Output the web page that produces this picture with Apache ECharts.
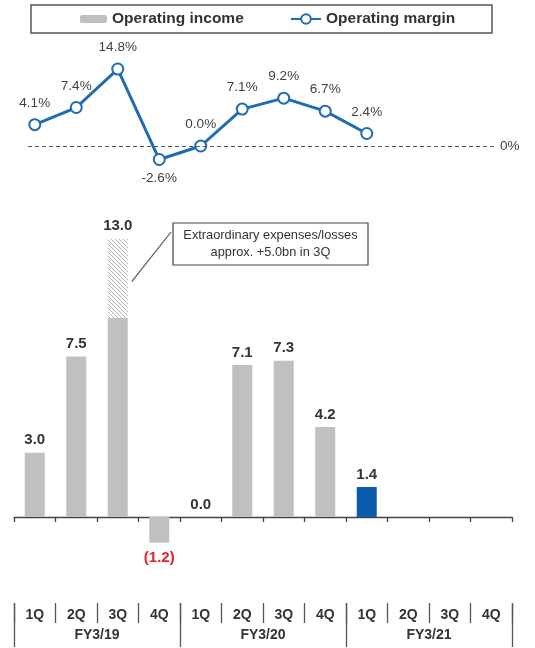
<!DOCTYPE html>
<html>
<head>
<meta charset="utf-8">
<script src="https://cdn.jsdelivr.net/npm/echarts@6/dist/echarts.min.js"></script>
<style>
  html, body { margin: 0; padding: 0; background: #fff; }
  #chart { width: 535px; height: 648px; }
</style>
</head>
<body>
<div id="chart"></div>
<script>
// Quarterly operating income (bn) and operating margin (%)
const quarterLabels = ['1Q', '2Q', '3Q', '4Q', '1Q', '2Q', '3Q', '4Q', '1Q', '2Q', '3Q', '4Q'];
const fiscalYears = ['FY3/19', 'FY3/20', 'FY3/21'];
const operatingIncome = [3.0, 7.5, 13.0, -1.2, 0.0, 7.1, 7.3, 4.2, 1.4, null, null, null];
// Part of the 3Q FY3/19 figure shown hatched (extraordinary items)
const extraordinaryPortion = [null, null, 3.7, null, null, null, null, null, null, null, null, null];
const operatingMargin = [4.1, 7.4, 14.8, -2.6, 0.0, 7.1, 9.2, 6.7, 2.4, null, null, null];
const latestQuarter = 8;

const FONT = 'Arial, "Liberation Sans", sans-serif';
const GREY = '#c0c0c0';
const BLUE = '#1f6cb0';
const BLUE_BAR = '#0b5cad';
const RED = '#e8202a';

function hatchPattern() {
  const c = document.createElement('canvas');
  c.width = 4; c.height = 4;
  const g = c.getContext('2d');
  g.fillStyle = '#ffffff';
  g.fillRect(0, 0, 4, 4);
  g.strokeStyle = '#b4b4b4';
  g.lineWidth = 1;
  g.beginPath();
  g.moveTo(-1, -1); g.lineTo(5, 5);
  g.moveTo(-1, 3); g.lineTo(1, 5);
  g.moveTo(3, -1); g.lineTo(5, 1);
  g.stroke();
  return c;
}

function fmtIncome(v) {
  return v < 0 ? '(' + Math.abs(v).toFixed(1) + ')' : v.toFixed(1);
}

// Solid part of each bar; the hatched part is stacked on top of it
const baseData = operatingIncome.map((v, i) => {
  if (v == null) return null;
  const extra = extraordinaryPortion[i] || 0;
  const item = { value: +(v - extra).toFixed(2) };
  if (i === latestQuarter) item.itemStyle = { color: BLUE_BAR };
  if (extra) item.label = { show: false };
  if (v < 0) item.label = { position: 'bottom', distance: 8, color: RED };
  return item;
});

const hatchData = extraordinaryPortion.map((v, i) => v == null ? null : {
  value: v,
  label: { show: true, formatter: () => fmtIncome(operatingIncome[i]) }
});

const marginData = operatingMargin.map(v => {
  if (v == null) return null;
  return v < 0 ? { value: v, label: { position: 'bottom', distance: 5 } } : v;
});

const chart = echarts.init(document.getElementById('chart'), null, { renderer: 'canvas' });

const option = {
  animation: false,
  backgroundColor: '#fff',
  textStyle: { fontFamily: FONT },
  legend: [
    {
      data: ['Operating income'],
      left: 80, top: 10, padding: 0,
      itemWidth: 27, itemHeight: 8, itemGap: 5,
      textStyle: { fontFamily: FONT, fontSize: 15.5, fontWeight: 'bold', color: '#333', lineHeight: 18 }
    },
    {
      data: ['Operating margin'],
      left: 290, top: 10, padding: 0,
      itemWidth: 30, itemHeight: 12, itemGap: 5,
      textStyle: { fontFamily: FONT, fontSize: 15.5, fontWeight: 'bold', color: '#333', lineHeight: 18 }
    }
  ],
  grid: [
    { left: 14, right: 23, top: 42, height: 130 },
    { left: 14, right: 23, top: 217.4, height: 342.4 }
  ],
  xAxis: [
    { gridIndex: 0, type: 'category', data: quarterLabels, show: false },
    {
      gridIndex: 1, type: 'category', data: quarterLabels,
      axisLine: { show: true, onZero: true, lineStyle: { color: '#444', width: 1.3 } },
      axisTick: { show: true, length: 5, lineStyle: { color: '#444', width: 1.3 } },
      axisLabel: { show: false }
    },
    {
      gridIndex: 1, type: 'category', data: quarterLabels, position: 'bottom', offset: 43.2,
      axisLine: { show: false, onZero: false },
      axisTick: { show: true, length: 20, interval: 0, lineStyle: { color: '#555', width: 1.3 } },
      axisLabel: { show: true, interval: 0, margin: 5, fontFamily: FONT, fontSize: 14, fontWeight: 'bold', color: '#333' }
    },
    {
      gridIndex: 1, type: 'category', data: fiscalYears, position: 'bottom', offset: 43.2,
      axisLine: { show: false, onZero: false },
      axisTick: { show: true, length: 44, interval: 0, lineStyle: { color: '#555', width: 1.3 } },
      axisLabel: { show: true, interval: 0, margin: 25, fontFamily: FONT, fontSize: 14, fontWeight: 'bold', color: '#333' }
    }
  ],
  yAxis: [
    { gridIndex: 0, type: 'value', min: -5, max: 20, show: false, splitLine: { show: false } },
    { gridIndex: 1, type: 'value', min: -2, max: 14, show: false, splitLine: { show: false } }
  ],
  series: [
    {
      name: 'Operating margin',
      type: 'line',
      xAxisIndex: 0, yAxisIndex: 0,
      data: marginData,
      symbol: 'emptyCircle',
      symbolSize: 11,
      lineStyle: { color: BLUE, width: 3 },
      itemStyle: { color: BLUE, borderWidth: 2.5 },
      label: {
        show: true, position: 'top', distance: 8,
        fontFamily: FONT, fontSize: 13.5, color: '#404040',
        formatter: p => p.value.toFixed(1) + '%'
      },
      markLine: {
        silent: true,
        symbol: 'none',
        lineStyle: { color: '#555', type: [4, 3], width: 1 },
        label: { show: true, position: 'end', formatter: '0%', distance: 5, fontFamily: FONT, fontSize: 13.5, color: '#404040' },
        data: [[{ x: 28, yAxis: 0 }, { x: 495, yAxis: 0 }]]
      }
    },
    {
      name: 'Operating income',
      type: 'bar',
      xAxisIndex: 1, yAxisIndex: 1,
      stack: 'income',
      barWidth: 20,
      data: baseData,
      itemStyle: { color: GREY },
      label: {
        show: true, position: 'top', distance: 5,
        fontFamily: FONT, fontSize: 15, fontWeight: 'bold', color: '#333',
        formatter: p => fmtIncome(operatingIncome[p.dataIndex])
      }
    },
    {
      name: 'Extraordinary expenses/losses',
      type: 'bar',
      xAxisIndex: 1, yAxisIndex: 1,
      stack: 'income',
      barWidth: 20,
      data: hatchData,
      itemStyle: { color: { image: hatchPattern(), repeat: 'repeat' } },
      label: {
        show: false, position: 'top', distance: 5,
        fontFamily: FONT, fontSize: 15, fontWeight: 'bold', color: '#333'
      }
    }
  ]
};

chart.setOption(option);

// Legend frame, callout box and its leader line to the hatched part of the bar
const hatchIdx = extraordinaryPortion.findIndex(v => v != null);
const anchor = chart.convertToPixel({ xAxisIndex: 1, yAxisIndex: 1 }, [hatchIdx, operatingIncome[hatchIdx] - 2.0]);
chart.setOption({
  graphic: [
    {
      type: 'rect', id: 'legendFrame', silent: true,
      shape: { x: 31, y: 5, width: 461, height: 28 },
      style: { fill: 'none', stroke: '#555', lineWidth: 1.5 }
    },
    {
      type: 'line', id: 'leader', silent: true,
      shape: { x1: anchor[0] + 14, y1: anchor[1], x2: 171, y2: 232 },
      style: { stroke: '#555', lineWidth: 1.2 }
    },
    {
      type: 'rect', id: 'calloutBox', silent: true,
      shape: { x: 173, y: 223, width: 195, height: 42 },
      style: { fill: '#fff', stroke: '#444', lineWidth: 1.2 }
    },
    {
      type: 'text', id: 'calloutText', silent: true,
      x: 270.5, y: 244,
      style: {
        text: 'Extraordinary expenses/losses\napprox. +5.0bn in 3Q',
        fontFamily: FONT, fontSize: 12.8, lineHeight: 16.5,
        fill: '#333', align: 'center', verticalAlign: 'middle'
      }
    }
  ]
});
</script>
</body>
</html>
